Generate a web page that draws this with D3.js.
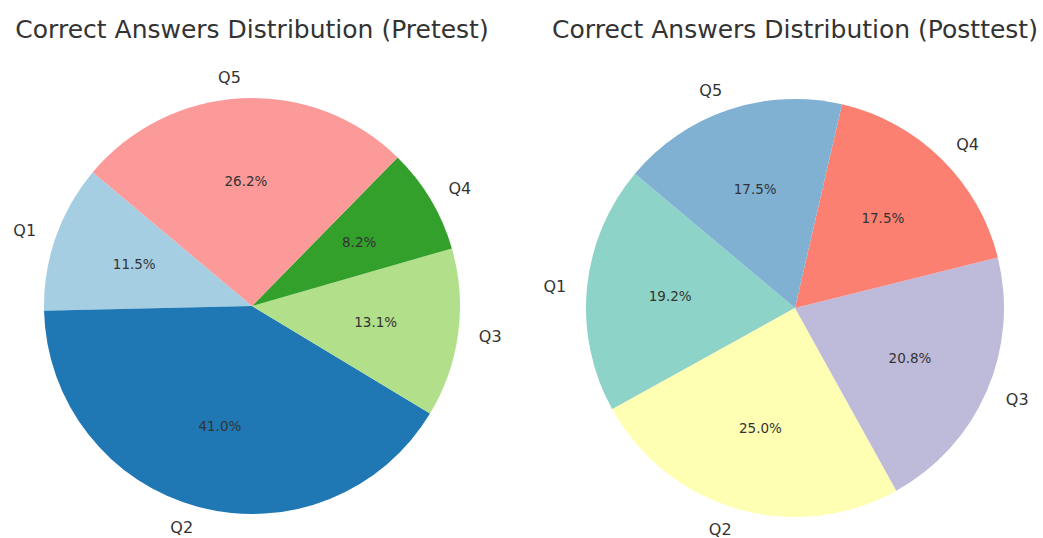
<!DOCTYPE html>
<html>
<head>
<meta charset="utf-8">
<script src="https://cdn.jsdelivr.net/npm/d3@7"></script>
<style>
  body { margin: 0; background: #fff; }
  svg text { font-family: "DejaVu Sans", sans-serif; fill: #333; }
</style>
</head>
<body>
<svg id="chart" width="1043" height="538"></svg>
<script>
// data
const questions = ["Q1", "Q2", "Q3", "Q4", "Q5"];
const pretestCounts = [7, 25, 8, 5, 16];
const posttestCounts = [23, 30, 25, 21, 21];
const pretestColors = ["#a6cee3", "#1f78b4", "#b2df8a", "#33a02c", "#fb9a99"];
const posttestColors = ["#8dd3c7", "#ffffb3", "#bebada", "#fb8072", "#80b1d3"];

const svg = d3.select("#chart");
const startDeg = 140; // matplotlib startangle, counterclockwise

function drawPie(cx, cy, radius, title, counts, colors) {
    const g = svg.append("g").attr("transform", "translate(" + [cx, cy] + ")");
    const total = d3.sum(counts);

    // matplotlib goes counterclockwise from +x; d3 goes clockwise from 12 o'clock
    const startRad = (90 - startDeg) * Math.PI / 180;
    const pie = d3.pie().sort(null)
        .startAngle(startRad)
        .endAngle(startRad - 2 * Math.PI)
        .value(d => d.value);

    const arcs = pie(counts.map((v, i) => ({ label: questions[i], value: v, color: colors[i] })));
    const arc = d3.arc().innerRadius(0).outerRadius(radius);

    g.selectAll("path")
        .data(arcs)
        .enter().append("path")
        .attr("d", arc)
        .attr("fill", d => d.data.color);

    const mid = d => (d.startAngle + d.endAngle) / 2;

    // category labels outside
    g.selectAll(".lbl")
        .data(arcs)
        .enter().append("text")
        .attr("class", "lbl")
        .attr("x", d => Math.sin(mid(d)) * radius * 1.1)
        .attr("y", d => -Math.cos(mid(d)) * radius * 1.1)
        .attr("dy", "0.35em")
        .attr("text-anchor", d => {
            const s = Math.sin(mid(d));
            return Math.abs(s) < 0.01 ? "middle" : (s > 0 ? "start" : "end");
        })
        .style("font-size", "16px")
        .text(d => d.data.label);

    // percentages inside
    g.selectAll(".pct")
        .data(arcs)
        .enter().append("text")
        .attr("class", "pct")
        .attr("x", d => Math.sin(mid(d)) * radius * 0.6)
        .attr("y", d => -Math.cos(mid(d)) * radius * 0.6)
        .attr("dy", "0.35em")
        .attr("text-anchor", "middle")
        .style("font-size", "13.5px")
        .text(d => (d.data.value / total * 100).toFixed(1) + "%");

    svg.append("text")
        .attr("x", cx)
        .attr("y", 38)
        .attr("text-anchor", "middle")
        .style("font-size", "25px")
        .text(title);
}

drawPie(252, 306, 208, "Correct Answers Distribution (Pretest)", pretestCounts, pretestColors);
drawPie(795, 308, 209, "Correct Answers Distribution (Posttest)", posttestCounts, posttestColors);
</script>
</body>
</html>
